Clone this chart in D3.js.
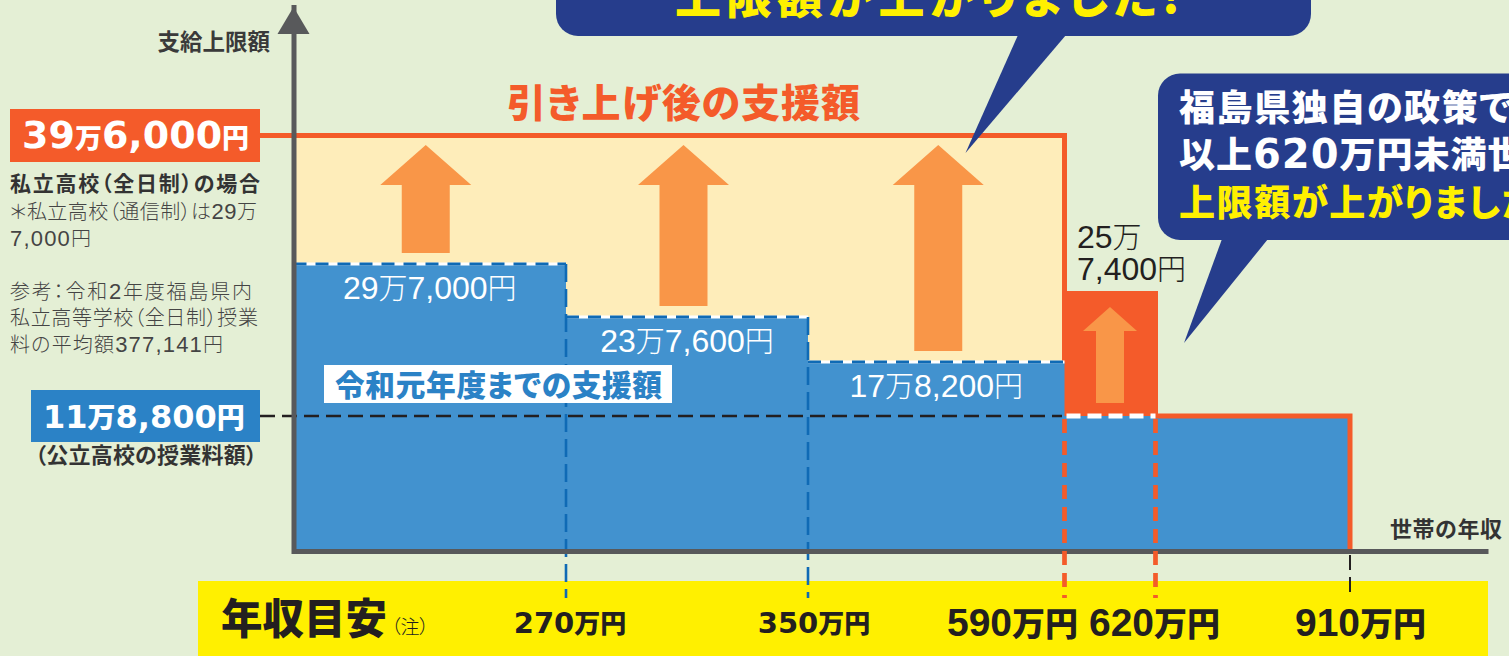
<!DOCTYPE html>
<html>
<head>
<meta charset="utf-8">
<script src="https://cdn.jsdelivr.net/npm/d3@7"></script>
<style>
html, body { margin: 0; padding: 0; background: #e4efd5; overflow: hidden; }
text { font-family: "Noto Sans CJK JP", sans-serif; font-feature-settings: "palt"; }
</style>
</head>
<body>
<svg id="chart" width="1509" height="656"></svg>
<script>
// income breaks in 万円, the last one is just where the axis runs out
var incomeBreaks = [0, 270, 350, 590, 620, 910, 1030];
// support amounts in yen, the last one is the tip of the y axis
var amountBreaks = [0, 118800, 178200, 237600, 257400, 297000, 396000, 480000];

// before the raise
var oldIncome = [0, 270, 350, 590, 910];
var oldAmount = [297000, 237600, 178200, 118800, 118800];
// after the raise
var newIncome = [0, 590, 620, 910];
var newAmount = [396000, 257400, 118800, 118800];

var bandLabels = ["29万7,000円", "23万7,600円", "17万8,200円"];
var bandAmounts = [297000, 237600, 178200];
var bandStart = [0, 270, 350];
var bandEnd = [270, 350, 590];
var tickLabels = ["270万円", "350万円", "590万円", "620万円", "910万円"];

var noteLines = ["＊私立高校（通信制）は29万", "7,000円", "", "参考：令和2年度福島県内", "私立高等学校（全日制）授業", "料の平均額377,141円"];

var svg = d3.select("#chart");
var x = d3.scaleLinear().domain(incomeBreaks).range([293.5, 566, 808, 1064.5, 1155.5, 1350, 1488]);
var y = d3.scaleLinear().domain(amountBreaks).range([551, 416, 362, 317, 293.5, 264, 135.5, 7]);

var red = "#f45b2a", blue = "#4292cf", deep = "#2b82c6",
    line = "#0f6ab5", grey = "#58595b", navy = "#263d8c", gold = "#fff000", ink = "#231f20";

var cjk = '"Noto Sans CJK JP", sans-serif';

// numbers and kanji get different fonts and sizes, like the print version
function rich(sel, str, numFont, numSize, kanjiSize, numWeight, kanjiWeight) {
    str.match(/[0-9,]+|[^0-9,]+/g).forEach(function (part) {
        var isNum = /^[0-9,]/.test(part);
        sel.append("tspan")
            .attr("font-family", isNum ? numFont : cjk)
            .attr("font-size", isNum ? numSize : kanjiSize)
            .attr("font-weight", isNum ? numWeight : kanjiWeight)
            .text(part);
    });
    return sel;
}

function label(px, py, str, size, weight, fill, anchor) {
    return svg.append("text")
        .attr("x", px).attr("y", py)
        .attr("font-size", size).attr("font-weight", weight)
        .attr("fill", fill).attr("text-anchor", anchor || "start")
        .text(str);
}

// yellow income strip
svg.append("rect").attr("x", 198).attr("y", 581).attr("width", x(1030) - 198).attr("height", 75).attr("fill", gold);

// areas
var stepArea = d3.area().curve(d3.curveStepAfter)
    .x(function (d) { return x(d[0]); })
    .y0(y(0))
    .y1(function (d) { return y(d[1]); });

var newPts = d3.zip(newIncome, newAmount);
var oldPts = d3.zip(oldIncome, oldAmount);

svg.append("path").attr("d", stepArea(newPts.slice(0, 2))).attr("fill", "#feedba");
svg.append("rect")
    .attr("x", x(590) - 2.5).attr("y", y(257400))
    .attr("width", x(620) - x(590) + 2.5).attr("height", y(118800) - y(257400))
    .attr("fill", red);
svg.append("path").attr("d", stepArea(oldPts)).attr("fill", blue);

// outline after the raise
var stepLine = d3.line().curve(d3.curveStepAfter)
    .x(function (d) { return x(d[0]); })
    .y(function (d) { return y(d[1]); });

svg.append("path")
    .attr("d", stepLine(newPts.concat([[910, 0]])))
    .attr("fill", "none").attr("stroke", red).attr("stroke-width", 5);
svg.append("line")
    .attr("x1", 260).attr("x2", x(0)).attr("y1", y(396000)).attr("y2", y(396000))
    .attr("stroke", red).attr("stroke-width", 5);

// dashed top edges of the old bands
bandAmounts.forEach(function (v, i) {
    var g = svg.append("g");
    [["#ffffff", null], [line, "13 9"]].forEach(function (s) {
        g.append("line")
            .attr("x1", x(bandStart[i])).attr("x2", x(bandEnd[i]))
            .attr("y1", y(v)).attr("y2", y(v))
            .attr("stroke", s[0]).attr("stroke-width", 3)
            .attr("stroke-dasharray", s[1]);
    });
});

// tuition line
svg.append("line")
    .attr("x1", 260).attr("x2", x(590) - 2.5).attr("y1", y(118800)).attr("y2", y(118800))
    .attr("stroke", ink).attr("stroke-width", 2.6).attr("stroke-dasharray", "15 7");
svg.append("line")
    .attr("x1", x(590) + 2).attr("x2", x(620)).attr("y1", y(118800)).attr("y2", y(118800))
    .attr("stroke", "#fff").attr("stroke-width", 5).attr("stroke-dasharray", "14 7");

// arrows
function arrow(cx, top, bottom, shoulder, headHalf, shaftHalf) {
    var pts = [[cx, top], [cx + headHalf, shoulder], [cx + shaftHalf, shoulder], [cx + shaftHalf, bottom],
        [cx - shaftHalf, bottom], [cx - shaftHalf, shoulder], [cx - headHalf, shoulder]];
    svg.append("path").attr("d", d3.line()(pts) + "Z").attr("fill", "#f99648");
}
var arrowShift = [-4, -3.5, 2];
bandAmounts.forEach(function (v, i) {
    var cx = (x(bandStart[i]) + x(bandEnd[i])) / 2 + arrowShift[i];
    arrow(cx, y(396000) + 9.5, y(v) - 11, y(396000) + 49.5, 45.5, 24);
});
arrow((x(590) + x(620)) / 2, y(257400) + 13.5, y(118800) - 13, y(257400) + 37.5, 27, 14);

// drop lines to the strip
[270, 350].forEach(function (v, i) {
    svg.append("line").attr("x1", x(v)).attr("x2", x(v)).attr("y1", y(bandAmounts[i])).attr("y2", 598)
        .attr("stroke", line).attr("stroke-width", 2.6).attr("stroke-dasharray", "18 7");
});

// axes
var xAxis = d3.axisBottom(x).tickValues([]).tickSize(0).tickSizeOuter(0);
var yAxis = d3.axisLeft(y).tickValues([]).tickSize(0).tickSizeOuter(0);
svg.append("g").attr("transform", "translate(0," + y(0) + ")").call(xAxis)
    .select(".domain").attr("stroke", grey).attr("stroke-width", 5);
svg.append("g").attr("transform", "translate(" + x(0) + ",0)").call(yAxis)
    .select(".domain").attr("stroke", grey).attr("stroke-width", 5).attr("stroke-linecap", "square");
svg.append("path")
    .attr("d", d3.line()([[x(0), y(480000)], [x(0) + 16, 34], [x(0) - 16, 34]]) + "Z")
    .attr("fill", grey);

[590, 620].forEach(function (v) {
    svg.append("line").attr("x1", x(v)).attr("x2", x(v)).attr("y1", y(118800) + 3).attr("y2", 598)
        .attr("stroke", red).attr("stroke-width", 4.7).attr("stroke-dasharray", "14 8");
});
svg.append("line").attr("x1", x(910)).attr("x2", x(910)).attr("y1", y(0) + 4).attr("y2", 598)
    .attr("stroke", ink).attr("stroke-width", 2).attr("stroke-dasharray", "15 7");

// value boxes on the left
svg.append("rect").attr("x", 10).attr("y", 109).attr("width", 250).attr("height", 53).attr("fill", red);
rich(label(22, 148, "", 38, 700, "#fff"), "39万6,000円", '"DejaVu Sans"', 38, 27, 700, 900);
svg.append("rect").attr("x", 31).attr("y", 390).attr("width", 229).attr("height", 52).attr("fill", deep);
rich(label(43, 428, "", 36, 700, "#fff"), "11万8,800円", '"DejaVu Sans"', 32, 28, 700, 900);

label(270, 50, "支給上限額", 22.5, 700, "#3a3a3a", "end");
label(10, 191, "私立高校（全日制）の場合", 21, 700, "#333").attr("textLength", 250);
var noteY = [219, 246, 0, 299, 325, 352];
var noteW = [247, 81, 0, 242, 248, 213];
noteLines.forEach(function (t, i) {
    if (t) rich(label(10, noteY[i], "", 20, 300, "#444"), t, '"Liberation Sans"', 22, 20, 400, 300)
        .attr("textLength", noteW[i]);
});
label(35, 463, "（公立高校の授業料額）", 22, 700, "#333").attr("textLength", 222);

label(507, 117, "引き上げ後の支援額", 39, 900, red).attr("textLength", 353);

// band values
bandLabels.forEach(function (t, i) {
    var mid = (x(bandStart[i]) + x(bandEnd[i])) / 2;
    rich(label(mid, y(bandAmounts[i]) + 35, "", 30, 400, "#fff", "middle"), t, '"Liberation Sans"', 32, 29, 400, 300);
});

svg.append("rect").attr("x", 324).attr("y", 365).attr("width", 348).attr("height", 38).attr("fill", "#fff");
label(335, 396, "令和元年度までの支援額", 29.7, 900, deep).attr("textLength", 327);

// two lines in one text element
var raised = rich(label(1077, 248, "", 30, 400, ink), "25万7,400円", '"Liberation Sans"', 32, 29, 400, 300);
raised.selectAll("tspan").filter(function (d, i) { return i === 2; })
    .text("7,400").attr("x", 1077).attr("dy", 32);

// strip labels
label(221, 634, "年収目安", 41.5, 900, ink);
label(391, 634, "（注）", 19, 300, ink);
label(1390, 537, "世帯の年収", 22, 700, "#333").attr("textLength", 112);

var tickCenter = [570, 814, 1012.5, 1154.5, 1360.5];
tickLabels.forEach(function (t, i) {
    var big = i > 1;
    rich(label(tickCenter[i], big ? 636 : 633, "", 28, 700, ink, "middle"), t,
        big ? '"Liberation Sans"' : '"DejaVu Sans"', big ? 39 : 29, big ? 33 : 26, 700, 900);
});

// speech bubbles
function bubble(bx, by, bw, bh, r, tail) {
    svg.append("rect").attr("x", bx).attr("y", by).attr("width", bw).attr("height", bh).attr("rx", r).attr("fill", navy);
    svg.append("path").attr("d", d3.line()(tail) + "Z").attr("fill", navy);
}
bubble(556, -60, 755, 96, 22, [[1018, 35], [1066, 35], [965.5, 153]]);
label(675, 13, "上限額が上がりました!", 46, 900, gold).attr("textLength", 505);

bubble(1158, 73.5, 420, 166.5, 22, [[1222, 239], [1268, 239], [1184, 343]]);
label(1179, 121, "福島県独自の政策で", 36, 900, "#fff").attr("letter-spacing", 1.6);
rich(label(1179, 168, "", 36, 900, "#fff"), "以上620万円未満世", '"DejaVu Sans"', 40, 36, 700, 900).attr("letter-spacing", 1);
label(1179, 216, "上限額が上がりました", 36, 900, gold).attr("letter-spacing", 1.6);
</script>
</body>
</html>
